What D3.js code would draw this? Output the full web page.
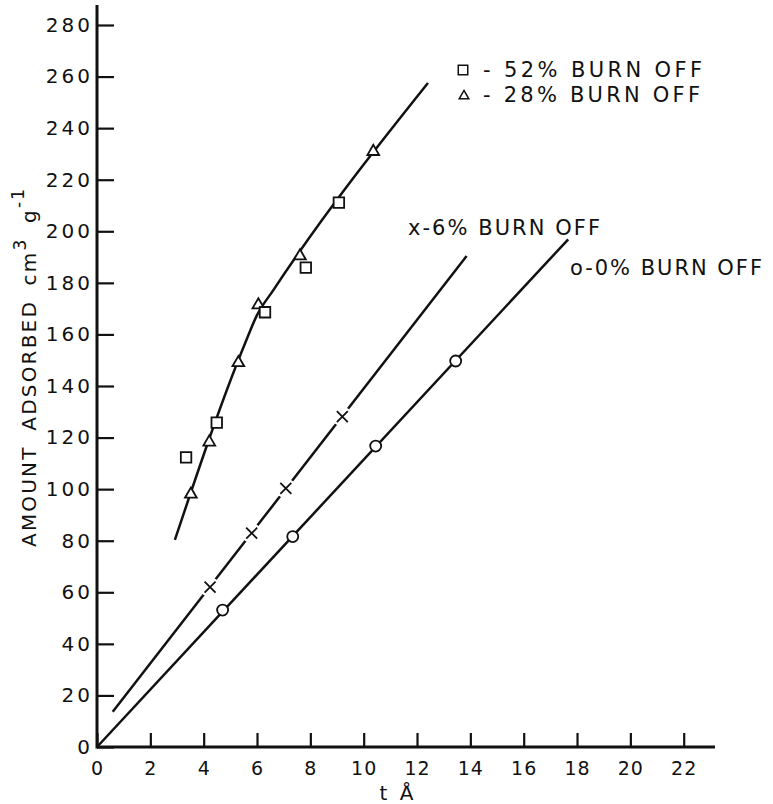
<!DOCTYPE html>
<html>
<head>
<meta charset="utf-8">
<style>
  body { margin: 0; background: #fff; }
  svg { display: block; font-family: "DejaVu Sans", sans-serif; }
  .axis text { fill: #111; }
  .axis line { stroke: #111; stroke-width: 2.2; }
</style>
</head>
<body>
<svg width="773" height="804"></svg>
<script src="https://d3js.org/d3.v7.min.js"></script>
<script>

// tick values
var xTicks = [0, 2, 4, 6, 8, 10, 12, 14, 16, 18, 20, 22];
var yTicks = [0, 20, 40, 60, 80, 100, 120, 140, 160, 180, 200, 220, 240, 260, 280];

// 0% burn off (circles)
var zeroT = [4.71, 7.34, 10.45, 13.45];
var zeroV = [53.1, 81.6, 116.7, 149.7];
var zeroFitT = [0, 17.67];
var zeroFitV = [0, 196.9];

// 6% burn off (crosses)
var sixT = [4.24, 5.80, 7.08, 9.20];
var sixV = [62.0, 82.9, 100.3, 128.1];
var sixFitT = [0.59, 13.86];
var sixFitV = [13.7, 190.4];

// 28% burn off (triangles)
var triT = [3.52, 4.21, 5.30, 6.05, 7.61, 10.36];
var triV = [98.0, 118.2, 149.0, 171.4, 190.4, 230.9];

// 52% burn off (squares)
var sqT = [3.34, 4.49, 6.30, 7.83, 9.07];
var sqV = [112.3, 125.8, 168.6, 185.9, 211.1];

// common curve through 28% and 52%
var burnFitT = [2.92, 5.55, 6.0, 6.6, 12.41];
var burnFitV = [80.3, 156.5, 167.5, 177, 257.5];

var svg = d3.select("svg");

var x = d3.scaleLinear().domain([0, 22]).range([97, 683.7]);
var y = d3.scaleLinear().domain([0, 280]).range([747, 25]);

function pairs(ts, vs) { return ts.map(function(t, i) { return [t, vs[i]]; }); }

var line = d3.line().x(function(d) { return x(d[0]); }).y(function(d) { return y(d[1]); });

// axes
var gx = svg.append("g")
    .attr("class", "axis")
    .attr("transform", "translate(0," + y(0) + ")")
    .call(d3.axisBottom(x).tickValues(xTicks).tickSizeInner(-14).tickSizeOuter(0).tickPadding(15));
gx.select(".domain").remove();
gx.selectAll("text")
    .attr("font-size", 19)
    .attr("letter-spacing", "1px")
    .attr("font-family", "DejaVu Sans");

var gy = svg.append("g")
    .attr("class", "axis")
    .attr("transform", "translate(" + x(0) + ",0)")
    .call(d3.axisLeft(y).tickValues(yTicks).tickSizeInner(-17).tickSizeOuter(0).tickPadding(4));
gy.select(".domain").remove();
gy.selectAll("text")
    .attr("font-size", 20)
    .attr("letter-spacing", "3px")
    .attr("font-family", "DejaVu Sans");

svg.append("line")
    .attr("x1", x(0)).attr("x2", 715)
    .attr("y1", y(0)).attr("y2", y(0))
    .attr("stroke", "#111").attr("stroke-width", 3);
svg.append("line")
    .attr("x1", x(0)).attr("x2", x(0))
    .attr("y1", y(0) + 1.5).attr("y2", 5)
    .attr("stroke", "#111").attr("stroke-width", 3);

// axis titles
svg.append("text")
    .attr("x", 398).attr("y", 800)
    .attr("text-anchor", "middle")
    .attr("font-size", 20)
    .attr("letter-spacing", "3px")
    .attr("fill", "#111")
    .text("t Å");

var ylab = svg.append("text")
    .attr("transform", "translate(36,547) rotate(-90)")
    .attr("font-size", 20)
    .attr("letter-spacing", "2.2px")
    .attr("word-spacing", "6px")
    .attr("fill", "#111");
ylab.append("tspan").text("AMOUNT ADSORBED cm");
ylab.append("tspan").attr("dy", -10).attr("font-size", 17).text("3");
ylab.append("tspan").attr("dy", 10).text(" g");
ylab.append("tspan").attr("dy", -12).attr("font-size", 17).text("-1");

// fitted lines
svg.append("path")
    .attr("d", line(pairs(zeroFitT, zeroFitV)))
    .attr("fill", "none").attr("stroke", "#111").attr("stroke-width", 2.5);
svg.append("path")
    .attr("d", line(pairs(sixFitT, sixFitV)))
    .attr("fill", "none").attr("stroke", "#111").attr("stroke-width", 2.5);
svg.append("path")
    .attr("d", line.curve(d3.curveMonotoneX)(pairs(burnFitT, burnFitV)))
    .attr("fill", "none").attr("stroke", "#111").attr("stroke-width", 2.5);

// 6% crosses, line broken around each one
var six = svg.append("g").selectAll("g")
    .data(pairs(sixT, sixV))
    .join("g")
    .attr("transform", function(d) { return "translate(" + x(d[0]) + "," + y(d[1]) + ")"; });
six.append("circle").attr("r", 10).attr("fill", "#fff");
six.append("path")
    .attr("d", "M-5.5,-5.5L5.5,5.5M-5.5,5.5L5.5,-5.5")
    .attr("stroke", "#111").attr("stroke-width", 1.8);

// 0% circles
svg.append("g").selectAll("circle")
    .data(pairs(zeroT, zeroV))
    .join("circle")
    .attr("cx", function(d) { return x(d[0]); })
    .attr("cy", function(d) { return y(d[1]); })
    .attr("r", 5.5)
    .attr("fill", "#fff").attr("stroke", "#111").attr("stroke-width", 1.8);

var triSym = d3.symbol().type(d3.symbolTriangle).size(60);
var sqSym = d3.symbol().type(d3.symbolSquare).size(110);

// 28% triangles
svg.append("g").selectAll("path")
    .data(pairs(triT, triV))
    .join("path")
    .attr("d", triSym)
    .attr("transform", function(d) { return "translate(" + x(d[0]) + "," + y(d[1]) + ")"; })
    .attr("fill", "#fff").attr("stroke", "#111").attr("stroke-width", 1.8);

// 52% squares
svg.append("g").selectAll("path")
    .data(pairs(sqT, sqV))
    .join("path")
    .attr("d", sqSym)
    .attr("transform", function(d) { return "translate(" + x(d[0]) + "," + y(d[1]) + ")"; })
    .attr("fill", "#fff").attr("stroke", "#111").attr("stroke-width", 1.8);

// labels
svg.append("path")
    .attr("d", d3.symbol().type(d3.symbolSquare).size(90))
    .attr("transform", "translate(463,70)")
    .attr("fill", "#fff").attr("stroke", "#111").attr("stroke-width", 1.5);
svg.append("path")
    .attr("d", d3.symbol().type(d3.symbolTriangle).size(40))
    .attr("transform", "translate(464,96)")
    .attr("fill", "#fff").attr("stroke", "#111").attr("stroke-width", 1.5);

var labels = [
  {text: "- 52% BURN OFF", x: 483, y: 77, w: 219},
  {text: "- 28% BURN OFF", x: 483, y: 102, w: 217},
  {text: "x-6% BURN OFF", x: 408, y: 235, w: 192},
  {text: "o-0% BURN OFF", x: 570, y: 275, w: 192}
];
svg.append("g").selectAll("text")
    .data(labels)
    .join("text")
    .attr("x", function(d) { return d.x; })
    .attr("y", function(d) { return d.y; })
    .attr("textLength", function(d) { return d.w; })
    .attr("lengthAdjust", "spacing")
    .attr("font-size", 21)
    .attr("fill", "#111")
    .text(function(d) { return d.text; });

</script>
</body>
</html>
